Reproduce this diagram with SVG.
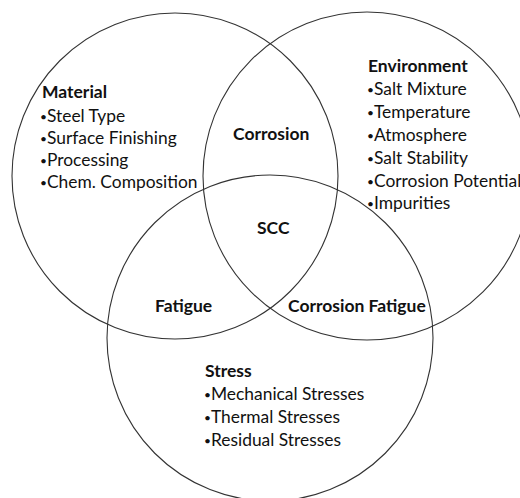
<svg xmlns="http://www.w3.org/2000/svg" width="520" height="498" viewBox="0 0 520 498">
<style>
.c{fill:none;stroke:#333;stroke-width:1.1}
.t{font-family:Lato,"Open Sans",sans-serif;font-size:17.4px;fill:#111}
.b{font-weight:bold;font-size:17.5px}
.d{font-size:12px}
</style>
<rect width="520" height="498" fill="#fff"/>
<g id="connectors"></g>
<g id="material">
<circle class="c" cx="175" cy="176" r="163"/>
<text class="t b" x="42" y="98">Material</text>
<text class="t" x="40" y="121.7"><tspan class="d" dy="-1">•</tspan><tspan dy="1">Steel Type</tspan></text>
<text class="t" x="40" y="143.5"><tspan class="d" dy="-1">•</tspan><tspan dy="1">Surface Finishing</tspan></text>
<text class="t" x="40" y="165.7"><tspan class="d" dy="-1">•</tspan><tspan dy="1">Processing</tspan></text>
<text class="t" x="40" y="187.7"><tspan class="d" dy="-1">•</tspan><tspan dy="1">Chem. Composition</tspan></text>
</g>
<g id="environment">
<circle class="c" cx="367" cy="176" r="164"/>
<text class="t b" x="368" y="72.3">Environment</text>
<text class="t" x="367" y="95"><tspan class="d" dy="-1">•</tspan><tspan dy="1">Salt Mixture</tspan></text>
<text class="t" x="367" y="118"><tspan class="d" dy="-1">•</tspan><tspan dy="1">Temperature</tspan></text>
<text class="t" x="367" y="141"><tspan class="d" dy="-1">•</tspan><tspan dy="1">Atmosphere</tspan></text>
<text class="t" x="367" y="164"><tspan class="d" dy="-1">•</tspan><tspan dy="1">Salt Stability</tspan></text>
<text class="t" x="367" y="186.7"><tspan class="d" dy="-1">•</tspan><tspan dy="1">Corrosion Potential</tspan></text>
<text class="t" x="367" y="209"><tspan class="d" dy="-1">•</tspan><tspan dy="1">Impurities</tspan></text>
</g>
<g id="stress">
<circle class="c" cx="270" cy="338" r="163"/>
<text class="t b" x="205" y="377">Stress</text>
<text class="t" x="204" y="400"><tspan class="d" dy="-1">•</tspan><tspan dy="1">Mechanical Stresses</tspan></text>
<text class="t" x="204" y="422.7"><tspan class="d" dy="-1">•</tspan><tspan dy="1">Thermal Stresses</tspan></text>
<text class="t" x="204" y="446"><tspan class="d" dy="-1">•</tspan><tspan dy="1">Residual Stresses</tspan></text>
</g>
<g id="corrosion"><text class="t b" x="233" y="140">Corrosion</text></g>
<g id="scc"><text class="t b" x="257" y="234">SCC</text></g>
<g id="fatigue"><text class="t b" x="155" y="311.7">Fatigue</text></g>
<g id="corrosion-fatigue"><text class="t b" x="288" y="312">Corrosion Fatigue</text></g>
</svg>
